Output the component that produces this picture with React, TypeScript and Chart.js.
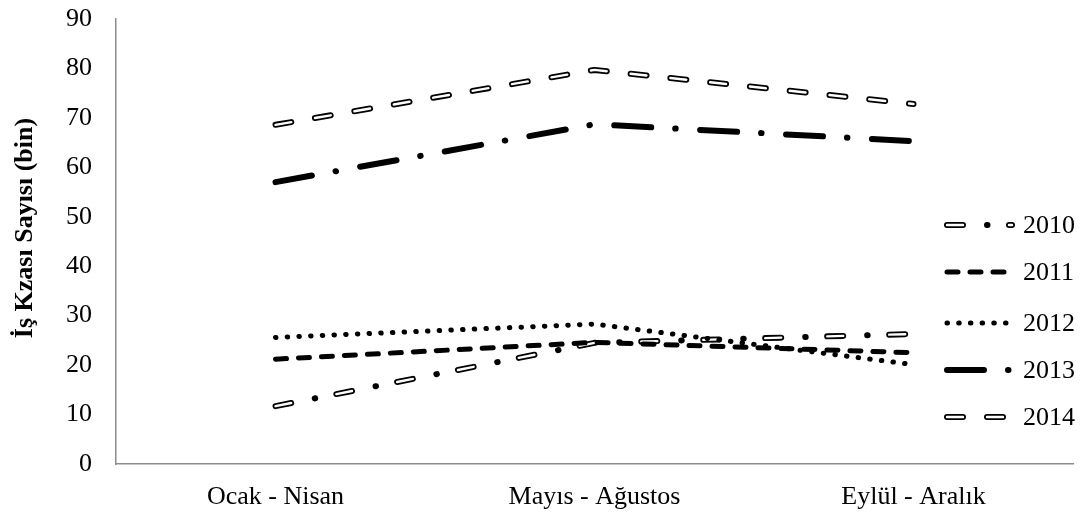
import React, { useEffect, useRef } from "react";
import { Chart, registerables } from "chart.js";

Chart.register(...registerables);

const categories = ["Ocak - Nisan", "Mayıs - Ağustos", "Eylül - Aralık"];
const seriesNames = ["2010", "2011", "2012", "2013", "2014"];
const values2010 = [11.7, 24.5, 26.3];
const values2011 = [21.2, 24.6, 22.5];
const values2012 = [25.6, 28.3, 20.1];
const values2013 = [57.0, 68.7, 65.3];
const values2014 = [68.6, 79.7, 72.8];
const yTicks = [0, 10, 20, 30, 40, 50, 60, 70, 80, 90];
const yTitle = "İş Kzası Sayısı (bin)";

const FONT = '"Liberation Serif", "Times New Roman", serif';

type Style = {
  width: number;
  dash: number[];
  hollow?: { width: number; dash: number[] };
};

const styles: Style[] = [
  { width: 6, dash: [16, 24, 0.5, 21.5], hollow: { width: 2.4, dash: [16, 46] } },
  { width: 5, dash: [11, 12] },
  { width: 5, dash: [0.5, 11.2] },
  { width: 6, dash: [37, 24, 0.5, 24.5] },
  { width: 6, dash: [16, 24], hollow: { width: 2.4, dash: [16, 24] } },
];

const allValues = [values2010, values2011, values2012, values2013, values2014];

const legendPlugin = {
  id: "customLegendTitle",
  afterDraw(chart: any) {
    const ctx = chart.ctx;
    ctx.save();
    ctx.translate(25, 228);
    ctx.rotate(-Math.PI / 2);
    ctx.font = `bold 26px ${FONT}`;
    ctx.fillStyle = "#000";
    ctx.textAlign = "center";
    ctx.textBaseline = "middle";
    ctx.fillText(yTitle, 0, 0);
    ctx.restore();

    const rows = [225, 272, 323, 370, 417];
    const x0 = 947;
    const x1 = 1012;
    seriesNames.forEach((name, i) => {
      const st = styles[i];
      const y = rows[i];
      ctx.save();
      ctx.lineCap = "round";
      ctx.strokeStyle = "#000";
      ctx.lineWidth = st.width;
      ctx.setLineDash(st.dash);
      ctx.beginPath();
      ctx.moveTo(x0, y);
      ctx.lineTo(x1, y);
      ctx.stroke();
      if (st.hollow) {
        ctx.strokeStyle = "#fff";
        ctx.lineWidth = st.hollow.width;
        ctx.setLineDash(st.hollow.dash);
        ctx.beginPath();
        ctx.moveTo(x0, y);
        ctx.lineTo(x1, y);
        ctx.stroke();
      }
      ctx.restore();
      ctx.save();
      ctx.font = `26px ${FONT}`;
      ctx.fillStyle = "#000";
      ctx.textAlign = "left";
      ctx.textBaseline = "middle";
      ctx.fillText(name, 1023, y + 1);
      ctx.restore();
    });
  },
};

export default function App() {
  const ref = useRef<HTMLCanvasElement>(null);

  useEffect(() => {
    if (!ref.current) return;
    const datasets: any[] = [];
    allValues.forEach((vals, k) => {
      const st = styles[k];
      datasets.push({
        label: seriesNames[k],
        data: vals,
        borderColor: "#000",
        borderWidth: st.width,
        borderDash: st.dash,
        borderCapStyle: "round",
        borderJoinStyle: "round",
        pointRadius: 0,
        fill: false,
        tension: 0,
        order: 10 - 2 * k,
      });
      if (st.hollow) {
        datasets.push({
          label: seriesNames[k] + "_inner",
          data: vals,
          borderColor: "#fff",
          borderWidth: st.hollow.width,
          borderDash: st.hollow.dash,
          borderCapStyle: "round",
          borderJoinStyle: "round",
          pointRadius: 0,
          fill: false,
          tension: 0,
          order: 9 - 2 * k,
        });
      }
    });

    const chart = new Chart(ref.current, {
      type: "line",
      data: { labels: categories, datasets },
      options: {
        animation: false,
        responsive: false,
        maintainAspectRatio: false,
        layout: { padding: { top: 19, right: 8, left: 0, bottom: 0 } },
        plugins: {
          legend: { display: false },
          tooltip: { enabled: false },
        },
        scales: {
          x: {
            type: "category",
            offset: true,
            grid: { display: false, drawTicks: false },
            border: { display: true, color: "#8c8c8c", width: 1.5 },
            ticks: {
              color: "#000",
              font: { family: FONT, size: 26 },
              padding: 18,
              maxRotation: 0,
            },
            afterFit(scale: any) {
              scale.height = 51;
              scale.paddingTop = 0;
              scale.paddingBottom = 0;
            },
          },
          y: {
            min: 0,
            max: 90,
            grid: { display: false, drawTicks: false },
            border: { display: true, color: "#8c8c8c", width: 1.5 },
            afterBuildTicks(scale: any) {
              scale.ticks = yTicks.map((v) => ({ value: v }));
            },
            ticks: {
              color: "#000",
              font: { family: FONT, size: 26 },
              padding: 24,
            },
            afterFit(scale: any) {
              scale.width = 116;
              scale.paddingTop = 0;
              scale.paddingBottom = 0;
            },
          },
        },
      },
      plugins: [legendPlugin],
    });
    return () => chart.destroy();
  }, []);

  return (
    <div style={{ position: "fixed", left: 0, top: 0, width: 1081, height: 515, background: "#fff" }}>
      <canvas ref={ref} width={1081} height={515} style={{ display: "block" }} />
    </div>
  );
}
